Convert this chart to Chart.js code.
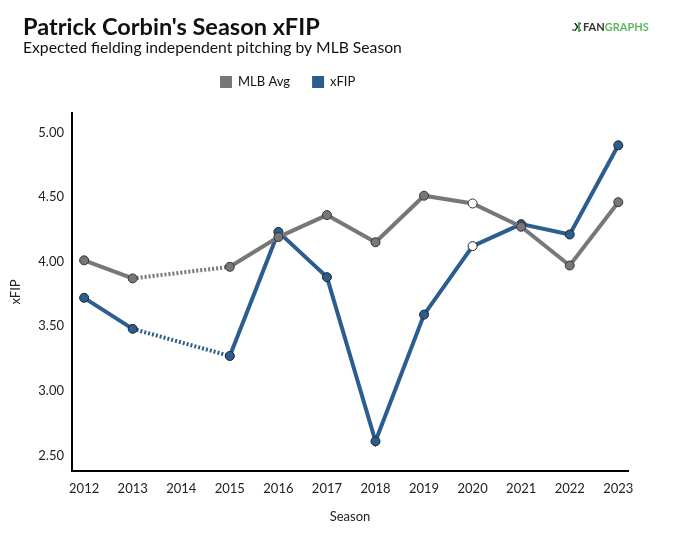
<!DOCTYPE html>
<html>
<head>
<meta charset="utf-8">
<script src="https://cdn.jsdelivr.net/npm/chart.js@4.4.0/dist/chart.umd.min.js"></script>
<style>
  html, body { margin: 0; padding: 0; background: #fff; }
  #wrap { width: 673px; height: 547px; }
</style>
</head>
<body>
<div id="wrap"><canvas id="xfipChart" width="673" height="547"></canvas></div>
<script>
// Patrick Corbin season xFIP vs MLB average (no 2014 season)
const seasons = [2012, 2013, 2015, 2016, 2017, 2018, 2019, 2020, 2021, 2022, 2023];
const mlbAvg = [4.01, 3.87, 3.96, 4.19, 4.36, 4.15, 4.51, 4.45, 4.27, 3.97, 4.46];
const xfip = [3.72, 3.48, 3.27, 4.23, 3.88, 2.61, 3.59, 4.12, 4.29, 4.21, 4.90];
const hollowSeasons = [2020];
const xTicks = [2012, 2013, 2014, 2015, 2016, 2017, 2018, 2019, 2020, 2021, 2022, 2023];
const yTicks = [2.5, 3.0, 3.5, 4.0, 4.5, 5.0];

const titleText = "Patrick Corbin's Season xFIP";
const subtitleText = "Expected fielding independent pitching by MLB Season";

const GRAY = "#777777";
const BLUE = "#2c5d8f";
const FONT = "Lato, 'Open Sans', sans-serif";

const toPoints = (vals) => seasons.map((s, i) => ({ x: s, y: vals[i] }));
const fillFor = (color) => seasons.map(s => hollowSeasons.includes(s) ? "#ffffff" : color);
// dotted line where a season is missing
const gapDash = (c) => (c.p1.parsed.x - c.p0.parsed.x > 1 ? [2, 2] : undefined);

const ctx = document.getElementById("xfipChart").getContext("2d");

// ==============================
// Header: title, subtitle, logo, legend
// ==============================
const header = {
  id: "header",
  afterDraw(chart) {
    const c = chart.ctx;
    c.save();
    c.textBaseline = "middle";
    c.textAlign = "left";

    c.fillStyle = "#111";
    c.font = "bold 23.5px " + FONT;
    c.fillText(titleText, 23, 27);
    c.font = "15.7px " + FONT;
    c.fillText(subtitleText, 23, 48);

    // logo
    c.fillStyle = "#4caf50";
    c.fillRect(572, 29, 2, 2);
    c.fillStyle = "#222";
    c.font = "bold 11px " + FONT;
    c.fillText("X", 574, 27);
    c.fillStyle = "#4caf50";
    c.fillRect(578, 22, 2, 10);
    c.fillStyle = "#333";
    c.fillText("FAN", 583, 27);
    const w = c.measureText("FAN").width;
    c.fillStyle = "#5cb85c";
    c.fillText("GRAPHS", 583 + w, 27);

    // legend
    c.font = "13px " + FONT;
    let x = 220;
    chart.data.datasets.forEach(ds => {
      c.fillStyle = ds.borderColor;
      c.fillRect(x, 76, 12, 12);
      x += 18;
      c.fillStyle = "#111";
      c.fillText(ds.label, x, 82);
      x += c.measureText(ds.label).width + 22;
    });
    c.restore();
  }
};

new Chart(ctx, {
  type: "line",
  data: {
    datasets: [
      {
        label: "MLB Avg",
        data: toPoints(mlbAvg),
        borderColor: GRAY,
        backgroundColor: GRAY,
        borderWidth: 4,
        pointRadius: 4.5,
        pointHoverRadius: 4.5,
        pointBorderWidth: 1,
        pointBorderColor: "#333",
        pointBackgroundColor: fillFor(GRAY),
        segment: { borderDash: gapDash },
        tension: 0
      },
      {
        label: "xFIP",
        data: toPoints(xfip),
        borderColor: BLUE,
        backgroundColor: BLUE,
        borderWidth: 4,
        pointRadius: 4.5,
        pointHoverRadius: 4.5,
        pointBorderWidth: 1,
        pointBorderColor: "#222",
        pointBackgroundColor: fillFor(BLUE),
        segment: { borderDash: gapDash },
        tension: 0
      }
    ]
  },
  options: {
    responsive: false,
    animation: false,
    layout: { padding: { left: 0, right: 45, top: 113, bottom: 18 } },
    plugins: {
      title: { display: false },
      subtitle: { display: false },
      legend: { display: false },
      tooltip: { enabled: false }
    },
    scales: {
      x: {
        type: "linear",
        min: 2011.75,
        max: 2023.2,
        afterBuildTicks: (s) => { s.ticks = xTicks.map(v => ({ value: v })); },
        afterFit: (s) => { s.height = 58; },
        grid: { display: false, drawTicks: true, tickLength: 5, tickColor: "#555" },
        border: { display: true, color: "#000", width: 2 },
        ticks: {
          color: "#222",
          font: { family: FONT, size: 13 },
          padding: 5,
          maxRotation: 0,
          callback: (v) => String(v)
        },
        title: {
          display: true,
          text: "Season",
          color: "#222",
          font: { family: FONT, size: 13 },
          padding: { top: 6 }
        }
      },
      y: {
        min: 2.38,
        max: 5.15,
        afterBuildTicks: (s) => { s.ticks = yTicks.map(v => ({ value: v })); },
        afterFit: (s) => { s.width = 72; },
        grid: { display: false, drawTicks: true, tickLength: 5, tickColor: "#555" },
        border: { display: true, color: "#000", width: 2 },
        ticks: {
          color: "#222",
          font: { family: FONT, size: 13 },
          padding: 3,
          callback: (v) => Number(v).toFixed(2)
        },
        title: {
          display: true,
          text: "xFIP",
          color: "#222",
          font: { family: FONT, size: 13 },
          padding: { top: 8, bottom: 0 }
        }
      }
    }
  },
  plugins: [header]
});
</script>
</body>
</html>
